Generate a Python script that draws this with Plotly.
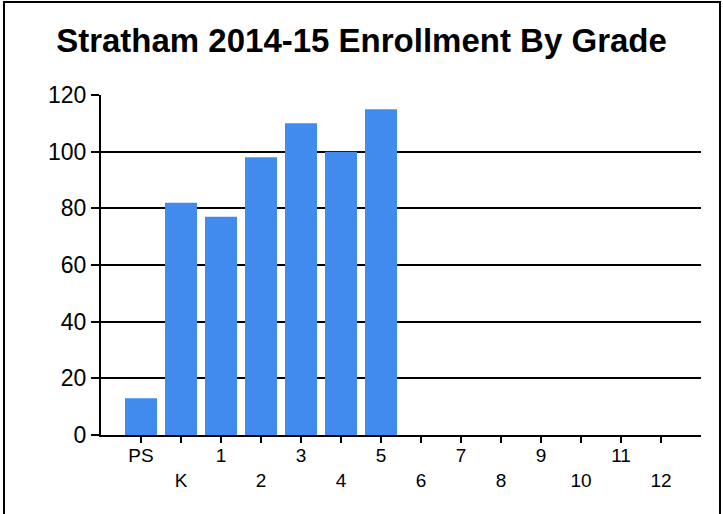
import plotly.graph_objects as go

grades = ["PS", "K", "1", "2", "3", "4", "5", "6", "7", "8", "9", "10", "11", "12"]
enrollment = [13, 82, 77, 98, 110, 100, 115, 0, 0, 0, 0, 0, 0, 0]
y_ticks = [0, 20, 40, 60, 80, 100, 120]
title_text = "Stratham 2014-15 Enrollment By Grade"

positions = list(range(len(grades)))
row1_text = [g if i % 2 == 0 else "" for i, g in enumerate(grades)]
row2_vals = [p for p in positions if p % 2 == 1]
row2_text = [grades[p] for p in row2_vals]

FONT = "Liberation Sans, Arial, sans-serif"

fig = go.Figure()
fig.add_trace(go.Bar(
    x=positions, y=enrollment, width=0.8,
    marker=dict(color="#418bee", line=dict(width=0)),
))
# invisible trace to activate the second x axis (second label row)
fig.add_trace(go.Scatter(x=[positions[0]], y=[0], xaxis="x2", mode="markers",
                         marker=dict(opacity=0), hoverinfo="skip"))

W, H = 723, 514
L, R, T, B = 101, 22, 95, 79
pw, ph = W - L - R, H - T - B

def px_to_paper_x(px):
    return (px - L) / pw

def px_to_paper_y(py):
    return (H - B - py) / ph

xrange_ = [-1, len(grades)]

fig.update_layout(
    width=W, height=H,
    margin=dict(l=L, r=R, t=T, b=B),
    paper_bgcolor="white", plot_bgcolor="white",
    showlegend=False,
    title=dict(text="<b>" + title_text + "</b>", x=0.5, xanchor="center",
               y=1 - 40 / H, yanchor="middle",
               font=dict(family=FONT, size=33, color="black")),
    font=dict(family=FONT, color="black"),
    xaxis=dict(range=xrange_, tickvals=positions, ticktext=row1_text,
               showgrid=False, zeroline=False, showline=True, linecolor="black", linewidth=2,
               ticks="outside", ticklen=6, tickwidth=2, tickcolor="black",
               ticklabelstandoff=-4,
               tickfont=dict(size=19), fixedrange=True),
    xaxis2=dict(range=xrange_, overlaying="x", anchor="y", side="bottom",
                tickvals=row2_vals, ticktext=row2_text, ticks="", showline=False,
                showgrid=False, zeroline=False, ticklabelstandoff=32,
                tickfont=dict(size=19), fixedrange=True),
    yaxis=dict(range=[0, 120], tickvals=y_ticks, showgrid=True, gridcolor="black", gridwidth=2,
               zeroline=False, showline=True, linecolor="black", linewidth=2,
               ticks="outside", ticklen=8, tickwidth=2, tickcolor="black",
               tickfont=dict(size=23), fixedrange=True),
    shapes=[dict(type="rect", xref="paper", yref="paper",
                 x0=px_to_paper_x(4), x1=px_to_paper_x(720),
                 y0=px_to_paper_y(530), y1=px_to_paper_y(2),
                 line=dict(color="black", width=2), fillcolor="rgba(0,0,0,0)", layer="below")],
)

fig.write_html("out.html", config={"displayModeBar": False},
               post_script="document.body.style.margin='0';")
